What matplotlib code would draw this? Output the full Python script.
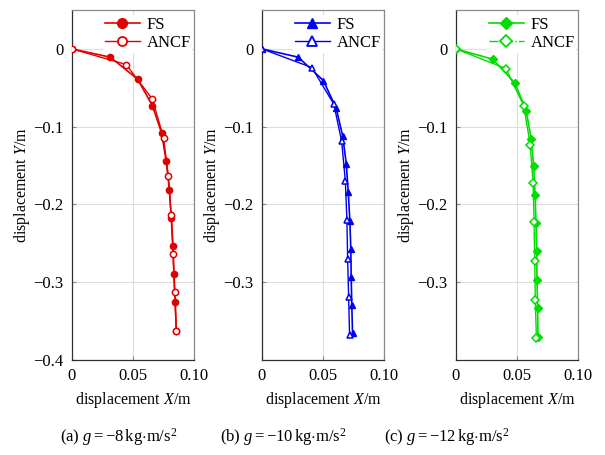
import matplotlib
matplotlib.use("Agg")
import matplotlib.pyplot as plt
from matplotlib.lines import Line2D

plt.rcParams['font.family'] = ['Liberation Serif', 'DejaVu Serif']
plt.rcParams['mathtext.fontset'] = 'custom'
plt.rcParams['mathtext.rm'] = 'Liberation Serif'
plt.rcParams['mathtext.it'] = 'Liberation Serif:italic'
plt.rcParams['font.size'] = 11

# (a) g = -8
fs_a_x = [0.0, 0.0315, 0.0538, 0.0659, 0.0734, 0.0772, 0.0798, 0.0815, 0.0828, 0.0836, 0.0847, 0.0855]
fs_a_y = [0.0, -0.0107, -0.039, -0.073, -0.108, -0.144, -0.181, -0.218, -0.253, -0.290, -0.326, -0.363]
ancf_a_x = [0.0, 0.0444, 0.0659, 0.0750, 0.0790, 0.0812, 0.0828, 0.0841, 0.0855]
ancf_a_y = [0.0, -0.0201, -0.0647, -0.114, -0.1637, -0.2134, -0.2635, -0.3132, -0.3633]

# (b) g = -10
fs_b_x = [0.0, 0.0298, 0.0503, 0.0608, 0.0661, 0.0691, 0.0707, 0.0720, 0.0728, 0.0731, 0.0736, 0.0742]
fs_b_y = [0.0, -0.0107, -0.0407, -0.0763, -0.1118, -0.148, -0.184, -0.2207, -0.2568, -0.2927, -0.329, -0.3655]
ancf_b_x = [0.0, 0.0409, 0.0589, 0.0653, 0.0683, 0.0696, 0.0702, 0.0710, 0.0718]
ancf_b_y = [0.0, -0.024, -0.0711, -0.119, -0.1697, -0.2202, -0.2695, -0.3188, -0.3685]

# (c) g = -12
fs_c_x = [0.0, 0.0301, 0.0484, 0.0575, 0.0616, 0.0637, 0.0648, 0.0656, 0.0661, 0.0664, 0.0669, 0.0672]
fs_c_y = [0.0, -0.0133, -0.0441, -0.0793, -0.1153, -0.1512, -0.1877, -0.224, -0.2605, -0.297, -0.3333, -0.3700]
ancf_c_x = [0.0, 0.0409, 0.0556, 0.0608, 0.0632, 0.0640, 0.0645, 0.0650, 0.0659]
ancf_c_y = [0.0, -0.0253, -0.0733, -0.123, -0.1727, -0.2228, -0.2725, -0.3226, -0.3719]

x_ticks = [0, 0.05, 0.10]
x_tick_labels = ['0', '0.05', '0.10']
y_ticks_a = [0, -0.1, -0.2, -0.3, -0.4]
y_ticks_bc = [0, -0.1, -0.2, -0.3]
captions = [r'(a) $g = -8\,$kg$\cdot$m/s$^2$',
            r'(b) $g = -10\,$kg$\cdot$m/s$^2$',
            r'(c) $g = -12\,$kg$\cdot$m/s$^2$']

panels = [
    (fs_a_x, fs_a_y, ancf_a_x, ancf_a_y, '#e00000', 'o', 4.5, '-', y_ticks_a),
    (fs_b_x, fs_b_y, ancf_b_x, ancf_b_y, '#0000f0', '^', 5.0, '-', y_ticks_bc),
    (fs_c_x, fs_c_y, ancf_c_x, ancf_c_y, '#00dd00', 'D', 4.0, '-.', y_ticks_bc),
]

W, H = 605, 455
fig = plt.figure(figsize=(W / 100, H / 100), dpi=100)
lefts = [72, 262, 456]
caption_x = [119, 283, 447]
ax_w, ax_top, ax_bot = 122, 10, 360

for i, (fx, fy, ax_, ay_, col, mk, ms, ancf_ls, yt) in enumerate(panels):
    ax = fig.add_axes([lefts[i] / W, 1 - ax_bot / H, ax_w / W, (ax_bot - ax_top) / H])
    ax.plot(fx, fy, color=col, lw=1.2, marker=mk, ms=ms, mfc=col, mec=col, zorder=3)
    ax.plot(ax_, ay_, color=col, lw=1.0, marker=mk, ms=ms, mfc='white', mec=col, mew=1.1, zorder=4)
    ax.set_xlim(0, 0.10)
    ax.set_ylim(-0.4, 0.05)
    ax.set_xticks(x_ticks)
    ax.set_xticklabels(x_tick_labels)
    ax.set_yticks(yt)
    ax.set_yticklabels(['0' if v == 0 else f'{v:.1f}'.replace('-', '\u2212') for v in yt])
    ax.tick_params(direction='in', length=3, width=0.8, color='#888888', pad=6, labelsize=12)
    ax.grid(True, color='#dddddd', lw=0.8)
    ax.set_axisbelow(True)
    for s in ['left', 'bottom']:
        ax.spines[s].set_color('#303030')
        ax.spines[s].set_linewidth(0.9)
    for s in ['top', 'right']:
        ax.spines[s].set_color('#8a8a8a')
        ax.spines[s].set_linewidth(0.9)
    ax.set_xlabel(r'displacement $X$/m', labelpad=4, fontsize=11.5)
    ax.set_ylabel(r'displacement $Y$/m', labelpad=1, fontsize=11.5)
    handles = [
        Line2D([], [], color=col, lw=1.2, marker=mk, ms=ms + 2.5, mfc=col, mec=col),
        Line2D([], [], color=col, lw=1.0, ls=ancf_ls, marker=mk, ms=ms + 2, mfc='white', mec=col, mew=1.3),
    ]
    leg = ax.legend(handles, ['FS', 'ANCF'], loc='upper right', bbox_to_anchor=(1.0, 0.99),
                    frameon=True, fancybox=False,
                    framealpha=1, facecolor='white', edgecolor='none', fontsize=12,
                    handlelength=2.1, handletextpad=0.4, borderpad=0.1, labelspacing=0.15,
                    borderaxespad=0.1)
    leg.set_zorder(10)
    fig.text(caption_x[i] / W, 1 - 437 / H, captions[i], ha='center', va='center', fontsize=12)

fig.savefig('out.png', dpi=100)
